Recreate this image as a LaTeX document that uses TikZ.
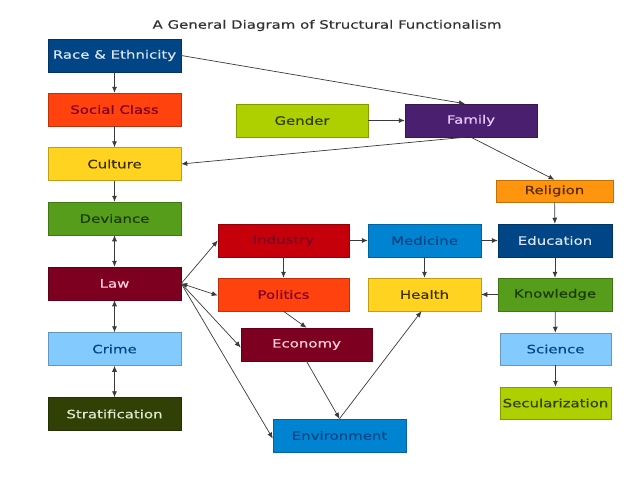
\documentclass[tikz,border=0pt]{standalone}
\usepackage{fontspec}
\setmainfont[FakeStretch=1.3,FakeBold=0.4]{DejaVu Sans}
\usetikzlibrary{arrows.meta}
\definecolor{cDarkBlue}{HTML}{004586}
\definecolor{cOrangeRed}{HTML}{FF420E}
\definecolor{cYellow}{HTML}{FFD320}
\definecolor{cGreen}{HTML}{579D1C}
\definecolor{cMaroon}{HTML}{7E0021}
\definecolor{cLightBlue}{HTML}{83CAFF}
\definecolor{cOlive}{HTML}{314004}
\definecolor{cLime}{HTML}{AECF00}
\definecolor{cPurple}{HTML}{4B1F6F}
\definecolor{cOrange}{HTML}{FF950E}
\definecolor{cRed}{HTML}{C5000B}
\definecolor{cBlue}{HTML}{0084D1}
\definecolor{tLightBlue}{HTML}{DCE6F2}
\definecolor{tDarkRed}{HTML}{7E0021}
\definecolor{tDark}{HTML}{3A3000}
\definecolor{tDarkGreen}{HTML}{1E3A07}
\definecolor{tPink}{HTML}{FFD0D8}
\definecolor{tLightOlive}{HTML}{E0E8CF}
\definecolor{tLavender}{HTML}{E6C8FA}
\definecolor{tBrown}{HTML}{5C2D02}
\definecolor{lineGray}{HTML}{3A3A3A}
\begin{document}
\begin{tikzpicture}[x=1pt,y=-1pt,
  box/.style 2 args={draw=#1!75!black, line width=0.5pt, fill=#1, text=#2,
    rectangle, inner sep=0pt, minimum height=33pt, font=\fontsize{11.5}{12}\selectfont},
  conn/.style={draw=lineGray, line width=0.7pt, -{Latex[length=6pt,width=5pt]}},
  dconn/.style={draw=lineGray, line width=0.7pt, {Latex[length=6pt,width=5pt]}-{Latex[length=6pt,width=5pt]}}]
\fill[white] (0,0) rectangle (638,479);
\useasboundingbox (0,0) rectangle (638,479);
\node[text=black!80, font=\fontsize{11.5}{12}\selectfont] (title) at (327,25.5) {A General Diagram of Structural Functionalism};
% left column
\node[box={cDarkBlue}{tLightBlue}, minimum width=133pt] (race) at (114.5,55.5) {Race \& Ethnicity};
\node[box={cOrangeRed}{tDarkRed}, minimum width=133pt] (social) at (114.5,109.5) {Social Class};
\node[box={cYellow}{tDark}, minimum width=133pt] (culture) at (114.5,164) {Culture};
\node[box={cGreen}{tDarkGreen}, minimum width=133pt] (deviance) at (114.5,218.5) {Deviance};
\node[box={cMaroon}{tPink}, minimum width=133pt] (law) at (114.5,283.5) {Law};
\node[box={cLightBlue}{cDarkBlue}, minimum width=133pt] (crime) at (114.5,349) {Crime};
\node[box={cOlive}{tLightOlive}, minimum width=133pt] (strat) at (114.5,414) {Stratification};
% top middle
\node[box={cLime}{cOlive}, minimum width=132pt] (gender) at (302,120.5) {Gender};
\node[box={cPurple}{tLavender}, minimum width=132pt] (family) at (471,120.5) {Family};
\node[box={cOrange}{tBrown}, minimum width=117pt, minimum height=22pt] (religion) at (554.5,191) {Religion};
% middle grid
\node[box={cRed}{tDarkRed}, minimum width=131pt] (industry) at (283.5,240.5) {Industry};
\node[box={cBlue}{cDarkBlue}, minimum width=113pt] (medicine) at (424.5,240.5) {Medicine};
\node[box={cDarkBlue}{tLightBlue}, minimum width=114pt] (education) at (555,240.5) {Education};
\node[box={cOrangeRed}{tDarkRed}, minimum width=131pt] (politics) at (283.5,294.5) {Politics};
\node[box={cYellow}{tDark}, minimum width=113pt] (health) at (424.5,294.5) {Health};
\node[box={cGreen}{tDarkGreen}, minimum width=114pt] (knowledge) at (555,294.5) {Knowledge};
\node[box={cMaroon}{tPink}, minimum width=131pt] (economy) at (306.5,344.5) {Economy};
\node[box={cLightBlue}{cDarkBlue}, minimum width=111pt, minimum height=32pt] (science) at (555.5,349) {Science};
\node[box={cLime}{cOlive}, minimum width=111pt, minimum height=32pt] (secular) at (555.5,403) {Secularization};
\node[box={cBlue}{cDarkBlue}, minimum width=133pt] (environment) at (339.5,435.5) {Environment};
% connectors
\draw[conn] (race) -- (social);
\draw[conn] (social) -- (culture);
\draw[conn] (culture) -- (deviance);
\draw[dconn] (deviance) -- (law);
\draw[dconn] (law) -- (crime);
\draw[dconn] (crime) -- (strat);
\draw[conn] (race.east) -- ([xshift=-6pt]family.north);
\draw[conn] ([xshift=-6pt]family.south) -- (culture.east);
\draw[conn] (family.south) -- (religion.north);
\draw[conn] (gender) -- (family);
\draw[conn] (religion) -- (education);
\draw[conn] (education) -- (knowledge);
\draw[conn] (knowledge) -- (health);
\draw[conn] (knowledge) -- (science);
\draw[conn] (science) -- (secular);
\draw[conn] (industry) -- (medicine);
\draw[conn] (medicine) -- (education);
\draw[conn] (medicine) -- (health);
\draw[conn] (industry) -- (politics);
\draw[conn] (politics.south) -- (economy.north);
\draw[conn] (law.east) -- (industry.west);
\draw[dconn] (law.east) -- ([yshift=-1pt]politics.west);
\draw[conn] (law.east) -- ([yshift=-3pt]economy.west);
\draw[conn] (law.east) -- ([yshift=-3pt]environment.west);
\draw[conn] (economy.south) -- (environment.north);
\draw[conn] (environment.north) -- ([xshift=-3pt]health.south);
\end{tikzpicture}
\end{document}
